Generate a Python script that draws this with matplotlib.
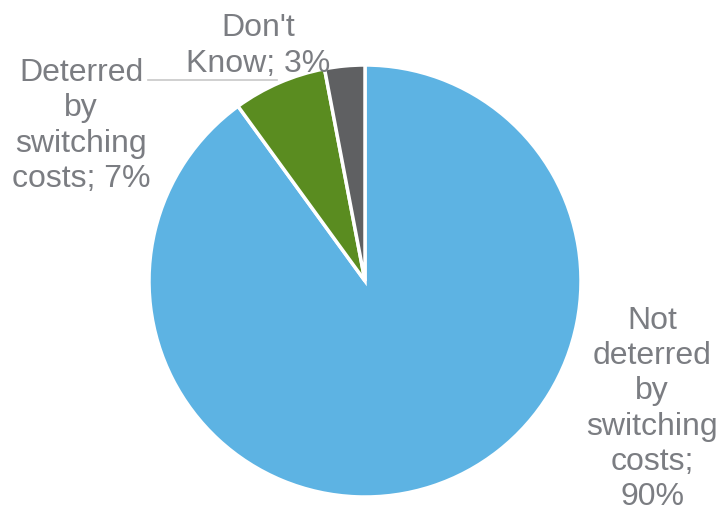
import matplotlib.pyplot as plt

# shares of respondents
labels = ["Not\ndeterred\nby\nswitching\ncosts;\n90%",
          "Deterred\nby\nswitching\ncosts; 7%",
          "Don't\nKnow; 3%"]
values = [90, 7, 3]
colors = ["#5DB3E3", "#5A8C20", "#5F6062"]

text_col = "#7B7D82"

fig = plt.figure(figsize=(7.18, 5.15), dpi=100)
ax = fig.add_axes([0, 0, 1, 1])

ax.pie(values, colors=colors, startangle=90, counterclock=False,
       center=(365, 234), radius=216,
       wedgeprops=dict(edgecolor="white", linewidth=2.5))

# pie() resets the limits, so set pixel-like limits afterwards
ax.set_xlim(0, 718)
ax.set_ylim(0, 515)
ax.set_aspect("equal")
ax.axis("off")

font = dict(family="Liberation Sans", fontsize=23, color=text_col,
            ha="center", va="center", linespacing=1.22)
ax.text(652, 106, labels[0], **font)
ax.text(81, 389, labels[1], **font)
ax.text(258, 469, labels[2], **font)

# leader line for the small slice label
ax.plot([148, 277], [435, 435], color="#C8C8C8", lw=1.2)

fig.savefig("out.png", dpi=100)
